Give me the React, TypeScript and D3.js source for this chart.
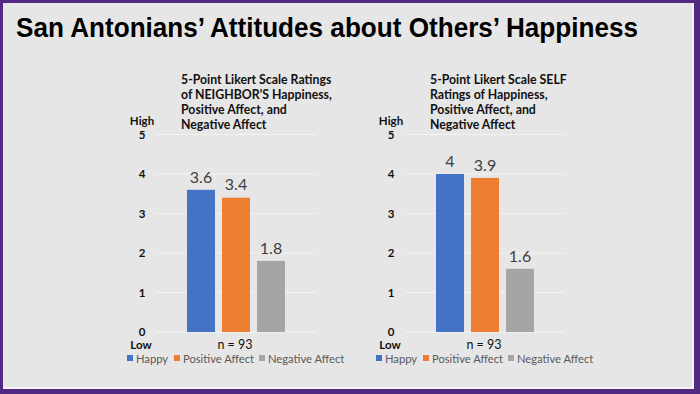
import React from "react";
import * as d3 from "d3";

const seriesNames = ["Happy", "Positive Affect", "Negative Affect"];
const seriesColors = ["#4472c4", "#ed7d31", "#a5a5a5"];
const neighborValues = [3.6, 3.4, 1.8];
const selfValues = [4, 3.9, 1.6];
const yTicks = [0, 1, 2, 3, 4, 5];
const categoryLabel = "n = 93";
const neighborTitle = [
  "5-Point Likert Scale Ratings",
  "of NEIGHBOR\u2019S Happiness,",
  "Positive Affect, and",
  "Negative Affect",
];
const selfTitle = [
  "5-Point Likert Scale SELF",
  "Ratings of Happiness,",
  "Positive Affect, and",
  "Negative Affect",
];
const mainTitle = "San Antonians\u2019 Attitudes about Others\u2019 Happiness";

const W = 700;
const H = 394;
const FONT = "Lato, 'Open Sans', sans-serif";

type PanelProps = { ox: number; values: number[]; title: string[] };

function Panel({ ox, values, title }: PanelProps) {
  const y = d3.scaleLinear().domain([0, 5]).range([332, 134.5]);
  const xOuter = d3.scaleBand<string>().domain([categoryLabel]).range([ox + 156, ox + 316]);
  const center = (xOuter(categoryLabel) as number) + xOuter.bandwidth() / 2;
  const xInner = d3
    .scaleBand<string>()
    .domain(seriesNames)
    .range([center - 49, center + 49])
    .paddingInner(0.2);
  const tickX = ox + 142;
  const legendX = [ox + 127, ox + 174, ox + 259];
  return (
    <g>
      {title.map((t, i) => (
        <text
          key={i}
          x={ox + 181}
          y={83.5 + i * 15.3}
          fontFamily={FONT}
          fontWeight={700}
          fontSize={12.3}
          fill="#111"
        >
          {t}
        </text>
      ))}
      {yTicks.map((t) => (
        <line
          key={"g" + t}
          x1={xOuter.range()[0]}
          x2={xOuter.range()[1]}
          y1={y(t)}
          y2={y(t)}
          stroke="#f3f3f3"
          strokeWidth={1}
        />
      ))}
      {yTicks.map((t) => (
        <text
          key={"t" + t}
          x={tickX}
          y={y(t)}
          dy="0.36em"
          textAnchor="middle"
          fontFamily={FONT}
          fontWeight={700}
          fontSize={11.5}
          fill="#111"
        >
          {t}
        </text>
      ))}
      <text x={tickX} y={y(5) - 14} dy="0.36em" textAnchor="middle" fontFamily={FONT} fontWeight={700} fontSize={11.5} fill="#111">
        High
      </text>
      <text x={tickX - 1} y={344.5} dy="0.36em" textAnchor="middle" fontFamily={FONT} fontWeight={700} fontSize={11.5} fill="#111">
        Low
      </text>
      <text x={center - 1} y={344} dy="0.36em" textAnchor="middle" fontFamily={FONT} fontSize={12.5} fill="#111">
        {categoryLabel}
      </text>
      {seriesNames.map((s, i) => (
        <g key={s}>
          <rect
            x={xInner(s)}
            y={y(values[i])}
            width={xInner.bandwidth()}
            height={y(0) - y(values[i])}
            fill={seriesColors[i]}
          />
          <text
            x={(xInner(s) as number) + xInner.bandwidth() / 2}
            y={y(values[i]) - 13}
            dy="0.36em"
            textAnchor="middle"
            fontFamily={FONT}
            fontSize={16}
            fill="#404040"
          >
            {String(values[i])}
          </text>
        </g>
      ))}
      {seriesNames.map((s, i) => (
        <g key={"l" + s}>
          <rect x={legendX[i]} y={355} width={6} height={6} fill={seriesColors[i]} />
          <text x={legendX[i] + 9} y={358.5} dy="0.36em" fontFamily={FONT} fontSize={11.2} fill="#595959">
            {s}
          </text>
        </g>
      ))}
    </g>
  );
}

export default function App() {
  return (
    <div style={{ position: "fixed", left: 0, top: 0, width: W, height: H }}>
      <svg width={W} height={H} style={{ display: "block" }}>
        <rect x={0} y={0} width={W} height={H} fill="#512a84" />
        <rect x={3} y={3} width={691} height={386} fill="#f4f2f6" />
        <rect x={3} y={3} width={689} height={384} fill="#e7e6e6" />
        <text
          x={16}
          y={37}
          fontFamily="'Liberation Sans', Arial, sans-serif"
          fontWeight={700}
          fontSize={27}
          textLength={622}
          lengthAdjust="spacingAndGlyphs"
          fill="#000"
        >
          {mainTitle}
        </text>
        <Panel ox={0} values={neighborValues} title={neighborTitle} />
        <Panel ox={249} values={selfValues} title={selfTitle} />
      </svg>
    </div>
  );
}
